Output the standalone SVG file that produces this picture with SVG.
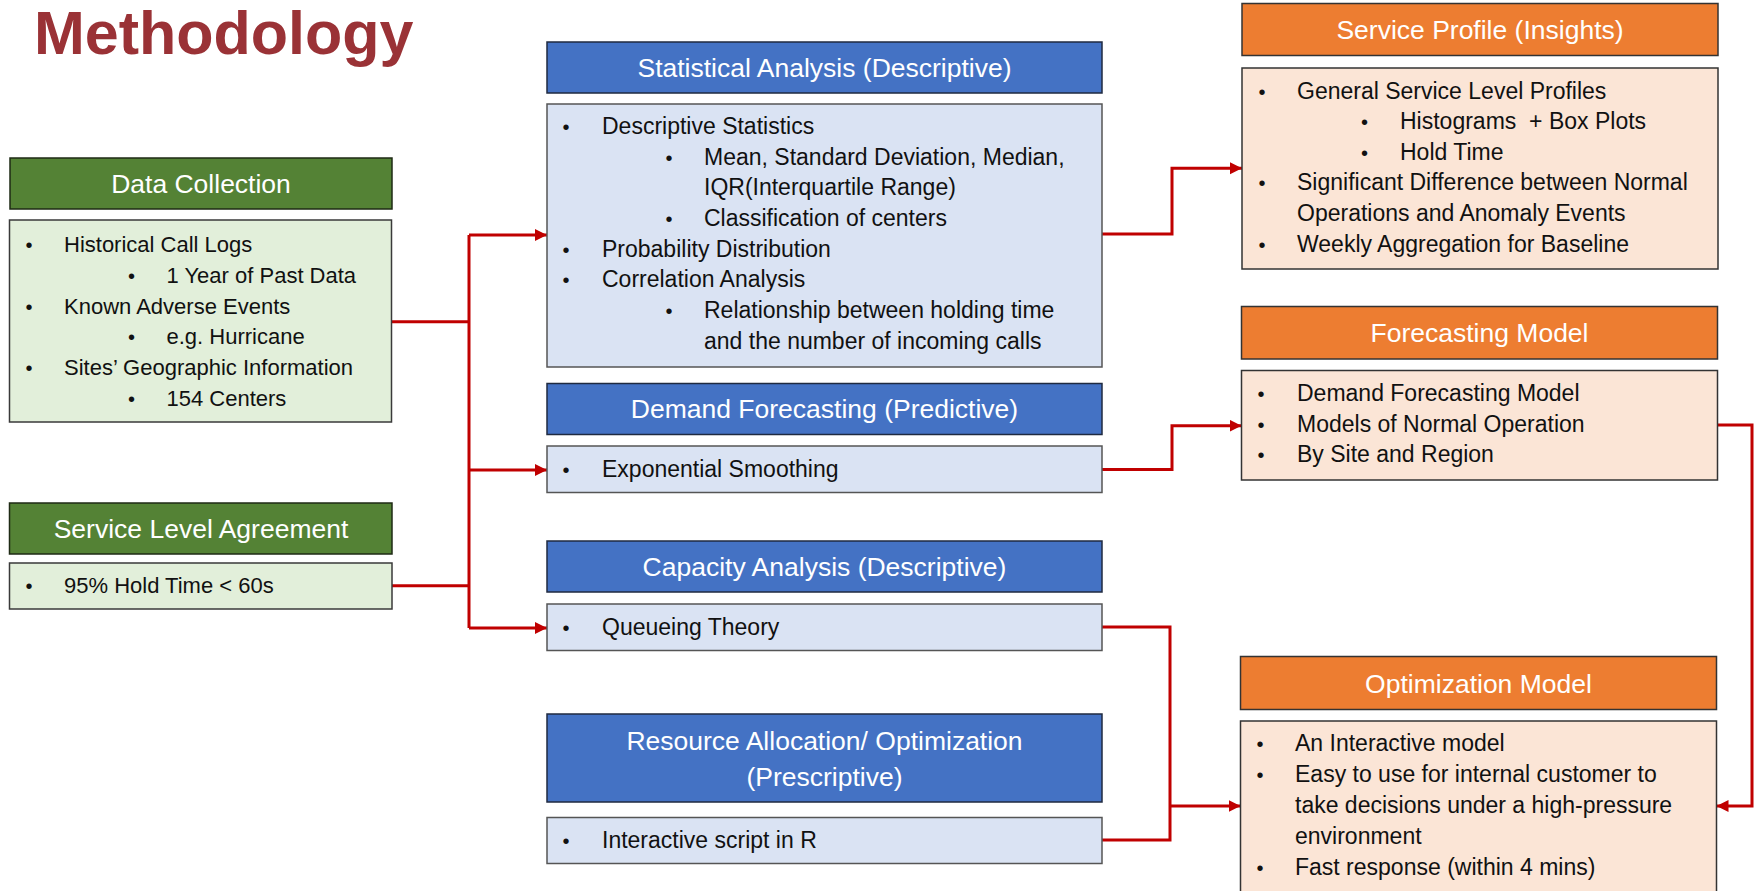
<svg xmlns="http://www.w3.org/2000/svg" width="1756" height="891" viewBox="0 0 1756 891">
<defs>
<marker id="arr" markerUnits="userSpaceOnUse" markerWidth="13" markerHeight="13" refX="12" refY="6" orient="auto">
<path d="M0,0 L12,6 L0,12 Z" fill="#C00000"/>
</marker>
<style>
.hg{fill:#548235;stroke:#1e2a14;stroke-width:1.5}
.bg{fill:#E2EFDA;stroke:#3a3a3a;stroke-width:1.5}
.hb{fill:#4472C4;stroke:#1f2a40;stroke-width:1.5}
.bb{fill:#DAE3F3;stroke:#555;stroke-width:1.5}
.ho{fill:#ED7D31;stroke:#333;stroke-width:1.5}
.bo{fill:#FBE5D6;stroke:#333;stroke-width:1.5}
.ht{font-family:"Liberation Sans",Arial,sans-serif;font-size:26.5px;fill:#fff;text-anchor:middle}
.t{font-family:"Liberation Sans",Arial,sans-serif;font-size:23px;fill:#111}
.ts{font-family:"Liberation Sans",Arial,sans-serif;font-size:22px;fill:#111}
.bu{font-family:"Liberation Sans",Arial,sans-serif;font-size:20px;fill:#111;text-anchor:middle}
.c{fill:none;stroke:#C00000;stroke-width:3}
</style>
</defs>
<rect width="1756" height="891" fill="#fff"/>
<text x="34" y="54" font-family="Liberation Sans, Arial, sans-serif" font-size="61" font-weight="bold" fill="#9A3236">Methodology</text>

<g id="connectors">
<polyline class="c" points="392,321.7 469,321.7"/>
<polyline class="c" points="392,585.7 469,585.7"/>
<polyline class="c" points="469,235 469,628"/>
<polyline class="c" points="469,235 547,235" marker-end="url(#arr)"/>
<polyline class="c" points="469,470 547,470" marker-end="url(#arr)"/>
<polyline class="c" points="469,628 547,628" marker-end="url(#arr)"/>
<polyline class="c" points="1102,234 1172,234 1172,168.3 1242,168.3" marker-end="url(#arr)"/>
<polyline class="c" points="1102,469.5 1172,469.5 1172,425.7 1241.5,425.7" marker-end="url(#arr)"/>
<polyline class="c" points="1102,627 1170,627 1170,840 1102,840"/>
<polyline class="c" points="1170,806 1240.5,806" marker-end="url(#arr)"/>
<polyline class="c" points="1717.5,425 1752,425 1752,806 1716.5,806" marker-end="url(#arr)"/>
</g>

<g id="data-collection">
<rect class="hg" x="10" y="158" width="382" height="51"/>
<text class="ht" x="201" y="193">Data Collection</text>
<rect class="bg" x="9.5" y="220" width="382" height="202"/>
<text class="bu" x="29" y="252">•</text><text class="ts" x="64" y="252">Historical Call Logs</text>
<text class="bu" x="131.5" y="283">•</text><text class="ts" x="166.5" y="283">1 Year of Past Data</text>
<text class="bu" x="29" y="313.5">•</text><text class="ts" x="64" y="313.5">Known Adverse Events</text>
<text class="bu" x="131.5" y="344">•</text><text class="ts" x="166.5" y="344">e.g. Hurricane</text>
<text class="bu" x="29" y="375">•</text><text class="ts" x="64" y="375">Sites’ Geographic Information</text>
<text class="bu" x="131.5" y="405.5">•</text><text class="ts" x="166.5" y="405.5">154 Centers</text>
</g>

<g id="sla">
<rect class="hg" x="9.5" y="503" width="382.5" height="51"/>
<text class="ht" x="201" y="538">Service Level Agreement</text>
<rect class="bg" x="9.5" y="563" width="382.5" height="46"/>
<text class="bu" x="29" y="593">•</text><text class="ts" x="64" y="593">95% Hold Time &lt; 60s</text>
</g>

<g id="statistical-analysis">
<rect class="hb" x="547" y="42" width="555" height="51"/>
<text class="ht" x="824.5" y="76.5">Statistical Analysis (Descriptive)</text>
<rect class="bb" x="547" y="104" width="555" height="263"/>
<text class="bu" x="566" y="134">•</text><text class="t" x="602" y="134">Descriptive Statistics</text>
<text class="bu" x="669" y="164.5">•</text><text class="t" x="704" y="164.5">Mean, Standard Deviation, Median,</text>
<text class="t" x="704" y="195">IQR(Interquartile Range)</text>
<text class="bu" x="669" y="225.5">•</text><text class="t" x="704" y="225.5">Classification of centers</text>
<text class="bu" x="566" y="256.5">•</text><text class="t" x="602" y="256.5">Probability Distribution</text>
<text class="bu" x="566" y="287">•</text><text class="t" x="602" y="287">Correlation Analysis</text>
<text class="bu" x="669" y="318">•</text><text class="t" x="704" y="318">Relationship between holding time</text>
<text class="t" x="704" y="348.5">and the number of incoming calls</text>
</g>

<g id="demand-forecasting">
<rect class="hb" x="547" y="383.5" width="555" height="51"/>
<text class="ht" x="824.5" y="418">Demand Forecasting (Predictive)</text>
<rect class="bb" x="547" y="446" width="555" height="46.5"/>
<text class="bu" x="566" y="477">•</text><text class="t" x="602" y="477">Exponential Smoothing</text>
</g>

<g id="capacity-analysis">
<rect class="hb" x="547" y="541" width="555" height="51"/>
<text class="ht" x="824.5" y="576">Capacity Analysis (Descriptive)</text>
<rect class="bb" x="547" y="604" width="555" height="46.5"/>
<text class="bu" x="566" y="635">•</text><text class="t" x="602" y="635">Queueing Theory</text>
</g>

<g id="resource-allocation">
<rect class="hb" x="547" y="714" width="555" height="88"/>
<text class="ht" x="824.5" y="750">Resource Allocation/ Optimization</text>
<text class="ht" x="824.5" y="786">(Prescriptive)</text>
<rect class="bb" x="547" y="817.5" width="555" height="46"/>
<text class="bu" x="566" y="848">•</text><text class="t" x="602" y="848">Interactive script in R</text>
</g>

<g id="service-profile">
<rect class="ho" x="1242" y="3.5" width="476" height="52"/>
<text class="ht" x="1480" y="39">Service Profile (Insights)</text>
<rect class="bo" x="1242" y="68" width="476" height="201"/>
<text class="bu" x="1262" y="98.7">•</text><text class="t" x="1297" y="98.7">General Service Level Profiles</text>
<text class="bu" x="1364.5" y="128.7">•</text><text class="t" x="1400" y="128.7" xml:space="preserve">Histograms  + Box Plots</text>
<text class="bu" x="1364.5" y="159.7">•</text><text class="t" x="1400" y="159.7">Hold Time</text>
<text class="bu" x="1262" y="190.3">•</text><text class="t" x="1297" y="190.3">Significant Difference between Normal</text>
<text class="t" x="1297" y="221.3">Operations and Anomaly Events</text>
<text class="bu" x="1262" y="252">•</text><text class="t" x="1297" y="252">Weekly Aggregation for Baseline</text>
</g>

<g id="forecasting-model">
<rect class="ho" x="1241.5" y="306.5" width="476" height="52.5"/>
<text class="ht" x="1479.5" y="342.3">Forecasting Model</text>
<rect class="bo" x="1241.5" y="370.5" width="476" height="109.5"/>
<text class="bu" x="1261" y="401.3">•</text><text class="t" x="1297" y="401.3">Demand Forecasting Model</text>
<text class="bu" x="1261" y="432">•</text><text class="t" x="1297" y="432">Models of Normal Operation</text>
<text class="bu" x="1261" y="462.3">•</text><text class="t" x="1297" y="462.3">By Site and Region</text>
</g>

<g id="optimization-model">
<rect class="ho" x="1240.5" y="656.5" width="476" height="53"/>
<text class="ht" x="1478.5" y="692.5">Optimization Model</text>
<rect class="bo" x="1240.5" y="721" width="476" height="175"/>
<text class="bu" x="1260" y="751.3">•</text><text class="t" x="1295" y="751.3">An Interactive model</text>
<text class="bu" x="1260" y="782">•</text><text class="t" x="1295" y="782">Easy to use for internal customer to</text>
<text class="t" x="1295" y="813">take decisions under a high-pressure</text>
<text class="t" x="1295" y="843.7">environment</text>
<text class="bu" x="1260" y="874.7">•</text><text class="t" x="1295" y="874.7">Fast response (within 4 mins)</text>
</g>
</svg>
